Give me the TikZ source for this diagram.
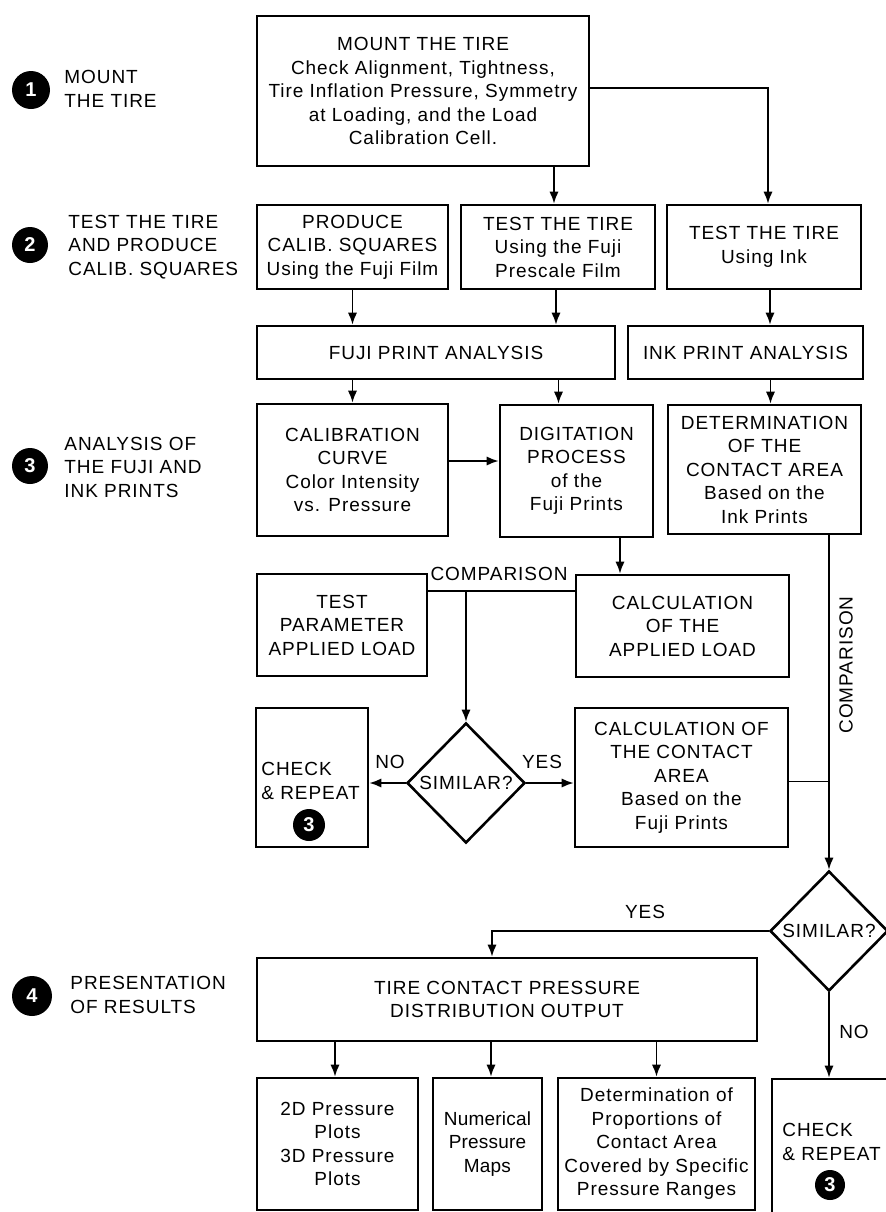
\documentclass[tikz,border=0pt]{standalone}
\usepackage{fontspec}
\setmainfont{Liberation Sans}[LetterSpace=5]
\usetikzlibrary{arrows.meta,shapes.geometric}
\newcommand\myfnt{\fontsize{9.5}{11.75}\selectfont}
\newcommand\bx[6]{\node[boxst, minimum width={(#4-#2)*0.5pt}, minimum height={(#5-#3)*0.5pt}] (#1) at ({(#2+#4)/2},{(#3+#5)/2}) {#6};}
\begin{document}
\begin{tikzpicture}[x=0.5pt,y=-0.5pt,
  boxst/.style={draw, line width=1.3pt, align=center, inner sep=0pt, font=\myfnt},
  dia/.style={draw, diamond, line width=1.3pt, inner sep=0pt, minimum width=59pt, minimum height=60pt, font=\myfnt},
  ln/.style={line width=0.9pt},
  arr/.style={line width=0.9pt, -{Latex[length=6pt,width=4.6pt]}},
  lbl/.style={font=\myfnt, inner sep=0pt},
  sidelbl/.style={font=\myfnt, inner sep=0pt, anchor=west, align=left},
  num/.style={circle, fill=black, text=white, inner sep=0pt, font=\fontsize{10}{12}\selectfont\bfseries}]
\useasboundingbox (0,0) rectangle (886,1212);

% side labels
\node[num, minimum size=19pt] (c1) at (31,90) {1};
\node[sidelbl] (l1) at (64,89) {MOUNT\\THE TIRE};
\node[num, minimum size=18pt] (c2) at (30,245) {2};
\node[sidelbl] (l2) at (68,247) {TEST THE TIRE\\AND PRODUCE\\CALIB. SQUARES};
\node[num, minimum size=18pt] (c3) at (30,466) {3};
\node[sidelbl] (l3) at (64,467) {ANALYSIS OF\\THE FUJI AND\\INK PRINTS};
\node[num, minimum size=20pt] (c4) at (32,996) {4};
\node[sidelbl] (l4) at (70,995) {PRESENTATION\\OF RESULTS};

% boxes
\bx{b1}{257}{16}{589}{166}{MOUNT THE TIRE\\Check Alignment, Tightness,\\Tire Inflation Pressure, Symmetry\\at Loading, and the Load\\Calibration Cell.}
\bx{b2}{257}{205}{448}{289}{PRODUCE\\CALIB. SQUARES\\Using the Fuji Film}
\bx{b3}{461}{205}{655}{289}{TEST THE TIRE\\Using the Fuji\\Prescale Film}
\bx{b4}{667}{205}{861}{289}{TEST THE TIRE\\Using Ink}
\bx{fpa}{257}{326}{615}{379}{FUJI PRINT ANALYSIS}
\bx{ipa}{628}{326}{863}{379}{INK PRINT ANALYSIS}
\bx{cal}{257}{404}{448}{536}{CALIBRATION\\CURVE\\Color Intensity\\vs. Pressure}
\bx{dig}{500}{405}{653}{537}{DIGITATION\\PROCESS\\of the\\Fuji Prints}
\bx{det}{668}{405}{861}{534}{DETERMINATION\\OF THE\\CONTACT AREA\\Based on the\\Ink Prints}
\bx{tp}{257}{574}{427}{676}{TEST\\PARAMETER\\APPLIED LOAD}
\bx{cl}{576}{575}{789}{677}{CALCULATION\\OF THE\\APPLIED LOAD}
\bx{chk1}{256}{708}{368}{847}{}
\node[sidelbl] (chk1t) at (261,781) {CHECK\\\& REPEAT};
\node[num, minimum size=16pt] (chk1n) at (309,825) {3};
\bx{cca}{575}{708}{788}{847}{CALCULATION OF\\THE CONTACT\\AREA\\Based on the\\Fuji Prints}
\node[dia] (d1) at (466,783) {SIMILAR?};
\node[dia] (d2) at (829,931) {SIMILAR?};
\bx{out}{257}{958}{757}{1041}{TIRE CONTACT PRESSURE\\DISTRIBUTION OUTPUT}
\bx{r1}{257}{1078}{418}{1210}{2D Pressure\\Plots\\3D Pressure\\Plots}
\bx{r2}{433}{1078}{542}{1210}{\addfontfeature{LetterSpace=1}Numerical\\\addfontfeature{LetterSpace=1}Pressure\\\addfontfeature{LetterSpace=1}Maps}
\bx{r3}{558}{1078}{755}{1210}{Determination of\\Proportions of\\Contact Area\\Covered by Specific\\Pressure Ranges}
\bx{chk2}{772}{1079}{895}{1216}{}
\node[sidelbl] (chk2t) at (782,1142) {CHECK\\\& REPEAT};
\node[num, minimum size=15pt] (chk2n) at (830,1185) {3};

% connectors
\draw[arr] ([xshift=-2pt]b3.north |- b1.south) -- ([xshift=-2pt]b3.north);
\draw[arr] ([yshift=1.5pt]b1.east) -| ([xshift=2pt]b4.north);
\draw[arr] (b2.south) -- (b2.south |- fpa.north);
\draw[arr] ([xshift=-1pt]b3.south) -- ([xshift=-1pt]b3.south |- fpa.north);
\draw[arr] ([xshift=3pt]b4.south) -- ([xshift=3pt]b4.south |- ipa.north);
\draw[arr] (cal.north |- fpa.south) -- (cal.north);
\draw[arr] ([xshift=-9pt]dig.north |- fpa.south) -- ([xshift=-9pt]dig.north);
\draw[arr] ([xshift=3pt]det.north |- ipa.south) -- ([xshift=3pt]det.north);
\draw[arr] ([yshift=4.5pt]cal.east) -- ([yshift=4.5pt]cal.east -| dig.west);
\draw[arr] ([xshift=21.75pt]dig.south) -- ([xshift=21.75pt]dig.south |- cl.north);
\coordinate (cmp) at ([yshift=17pt]tp.east);
\draw[ln] (cmp) -- (cmp -| cl.west);
\node[lbl] (cmpl) at (499,574) {COMPARISON};
\draw[arr] (d1.north |- cmp) -- (d1.north);
\draw[arr] (d1.west) -- (d1.west -| chk1.east);
\node[lbl] (no1) at (390,762) {NO};
\draw[arr] (d1.east) -- (d1.east -| cca.west);
\node[lbl] (yes1) at (542,762) {YES};
\draw[ln] ([yshift=-2pt]cca.east) -- ([yshift=-2pt]cca.east -| d2.north);
\draw[arr] (d2.north |- det.south) -- (d2.north);
\node[lbl, rotate=90] (cmp2) at (846,665) {COMPARISON};
\draw[arr] (d2.west) -| ([xshift=-7.5pt]out.north);
\node[lbl] (yes2) at (645,912) {YES};
\draw[arr] (d2.south) -- (d2.south |- chk2.north);
\node[lbl] (no2) at (854,1032) {NO};
\draw[arr] ([xshift=-1.25pt]r1.north |- out.south) -- ([xshift=-1.25pt]r1.north);
\draw[arr] ([xshift=1.75pt]r2.north |- out.south) -- ([xshift=1.75pt]r2.north);
\draw[arr] (r3.north |- out.south) -- (r3.north);
\end{tikzpicture}
\end{document}
